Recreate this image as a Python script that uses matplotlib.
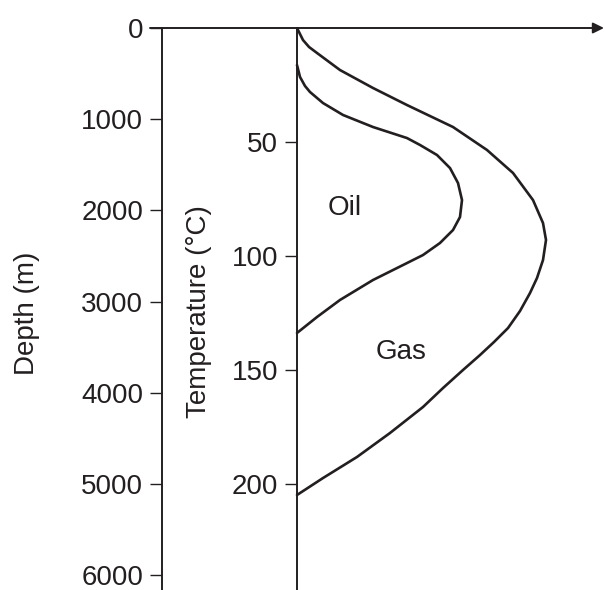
import matplotlib
matplotlib.use('Agg')
import matplotlib.pyplot as plt

plt.rcParams['font.family'] = ['Liberation Sans', 'DejaVu Sans']

ink = '#231f20'

# axis scales
depth_ticks = [0, 1000, 2000, 3000, 4000, 5000, 6000]
temp_ticks = [50, 100, 150, 200]
gradient = 25.0  # m per degC (200 degC at 5000 m)

# gas window envelope (x = relative units from the temperature axis, depth in m)
gas_x = [0, 6, 12, 20, 43, 76, 110, 156, 190, 216, 236, 246, 249, 246, 240,
         233, 223, 211, 197, 183, 166, 146, 126, 93, 60, 26, 0]
gas_depth = [0, 132, 208, 274, 461, 658, 845, 1086, 1338, 1590, 1887, 2139, 2325,
             2545, 2742, 2907, 3104, 3291, 3444, 3587, 3751, 3949, 4157, 4442,
             4705, 4936, 5122]

# oil window envelope
oil_x = [0, 3, 8, 13, 26, 46, 76, 110, 123, 140, 153, 161, 165, 163, 156, 143,
         126, 110, 76, 43, 20, 0]
oil_depth = [406, 537, 636, 702, 823, 954, 1086, 1207, 1283, 1393, 1536, 1700,
             1887, 2073, 2216, 2358, 2490, 2578, 2764, 2983, 3170, 3345]

fig = plt.figure(figsize=(6.05, 5.9), dpi=100)
ax = fig.add_axes([162 / 605, 0, 438 / 605, 562 / 590])
ax.set_xlim(-135, 303)
ax.set_ylim(6164, 0)

for s in ['top', 'right', 'bottom']:
    ax.spines[s].set_visible(False)
ax.spines['left'].set_linewidth(1.4)
ax.spines['left'].set_color(ink)
ax.set_xticks([])
ax.set_yticks(depth_ticks)
ax.tick_params(axis='y', length=8.5, width=1, color=ink, labelsize=20,
               labelcolor=ink, pad=5)

sec = ax.secondary_yaxis(135 / 438, functions=(lambda d: d / gradient,
                                               lambda t: t * gradient))
sec.set_yticks(temp_ticks)
sec.tick_params(axis='y', length=8.5, width=1, color=ink, labelsize=20,
                labelcolor=ink, pad=5)
for s in sec.spines.values():
    s.set_linewidth(1.4)
    s.set_color(ink)

# top arrow
ax.annotate('', xy=(307, 0), xytext=(-147, 0), xycoords='data',
            annotation_clip=False,
            arrowprops=dict(arrowstyle='-|>,head_length=0.65,head_width=0.32',
                            mutation_scale=10, lw=1.4, color=ink,
                            shrinkA=0, shrinkB=0))

ax.plot(gas_x, gas_depth, color=ink, lw=1.9, solid_joinstyle='round',
        solid_capstyle='round')
ax.plot(oil_x, oil_depth, color=ink, lw=1.9, solid_joinstyle='round',
        solid_capstyle='round')

ax.text(48, 1974, 'Oil', fontsize=20, color=ink, ha='center', va='center')
ax.text(104, 3553, 'Gas', fontsize=20, color=ink, ha='center', va='center')

ax.text(-0.308, 0.493, 'Depth (m)', transform=ax.transAxes, rotation=90,
        fontsize=20, color=ink, ha='center', va='center')
ax.text(0.0845, 0.495, 'Temperature (°C)', transform=ax.transAxes, rotation=90,
        fontsize=20, color=ink, ha='center', va='center')

fig.savefig('out.png', dpi=100)
